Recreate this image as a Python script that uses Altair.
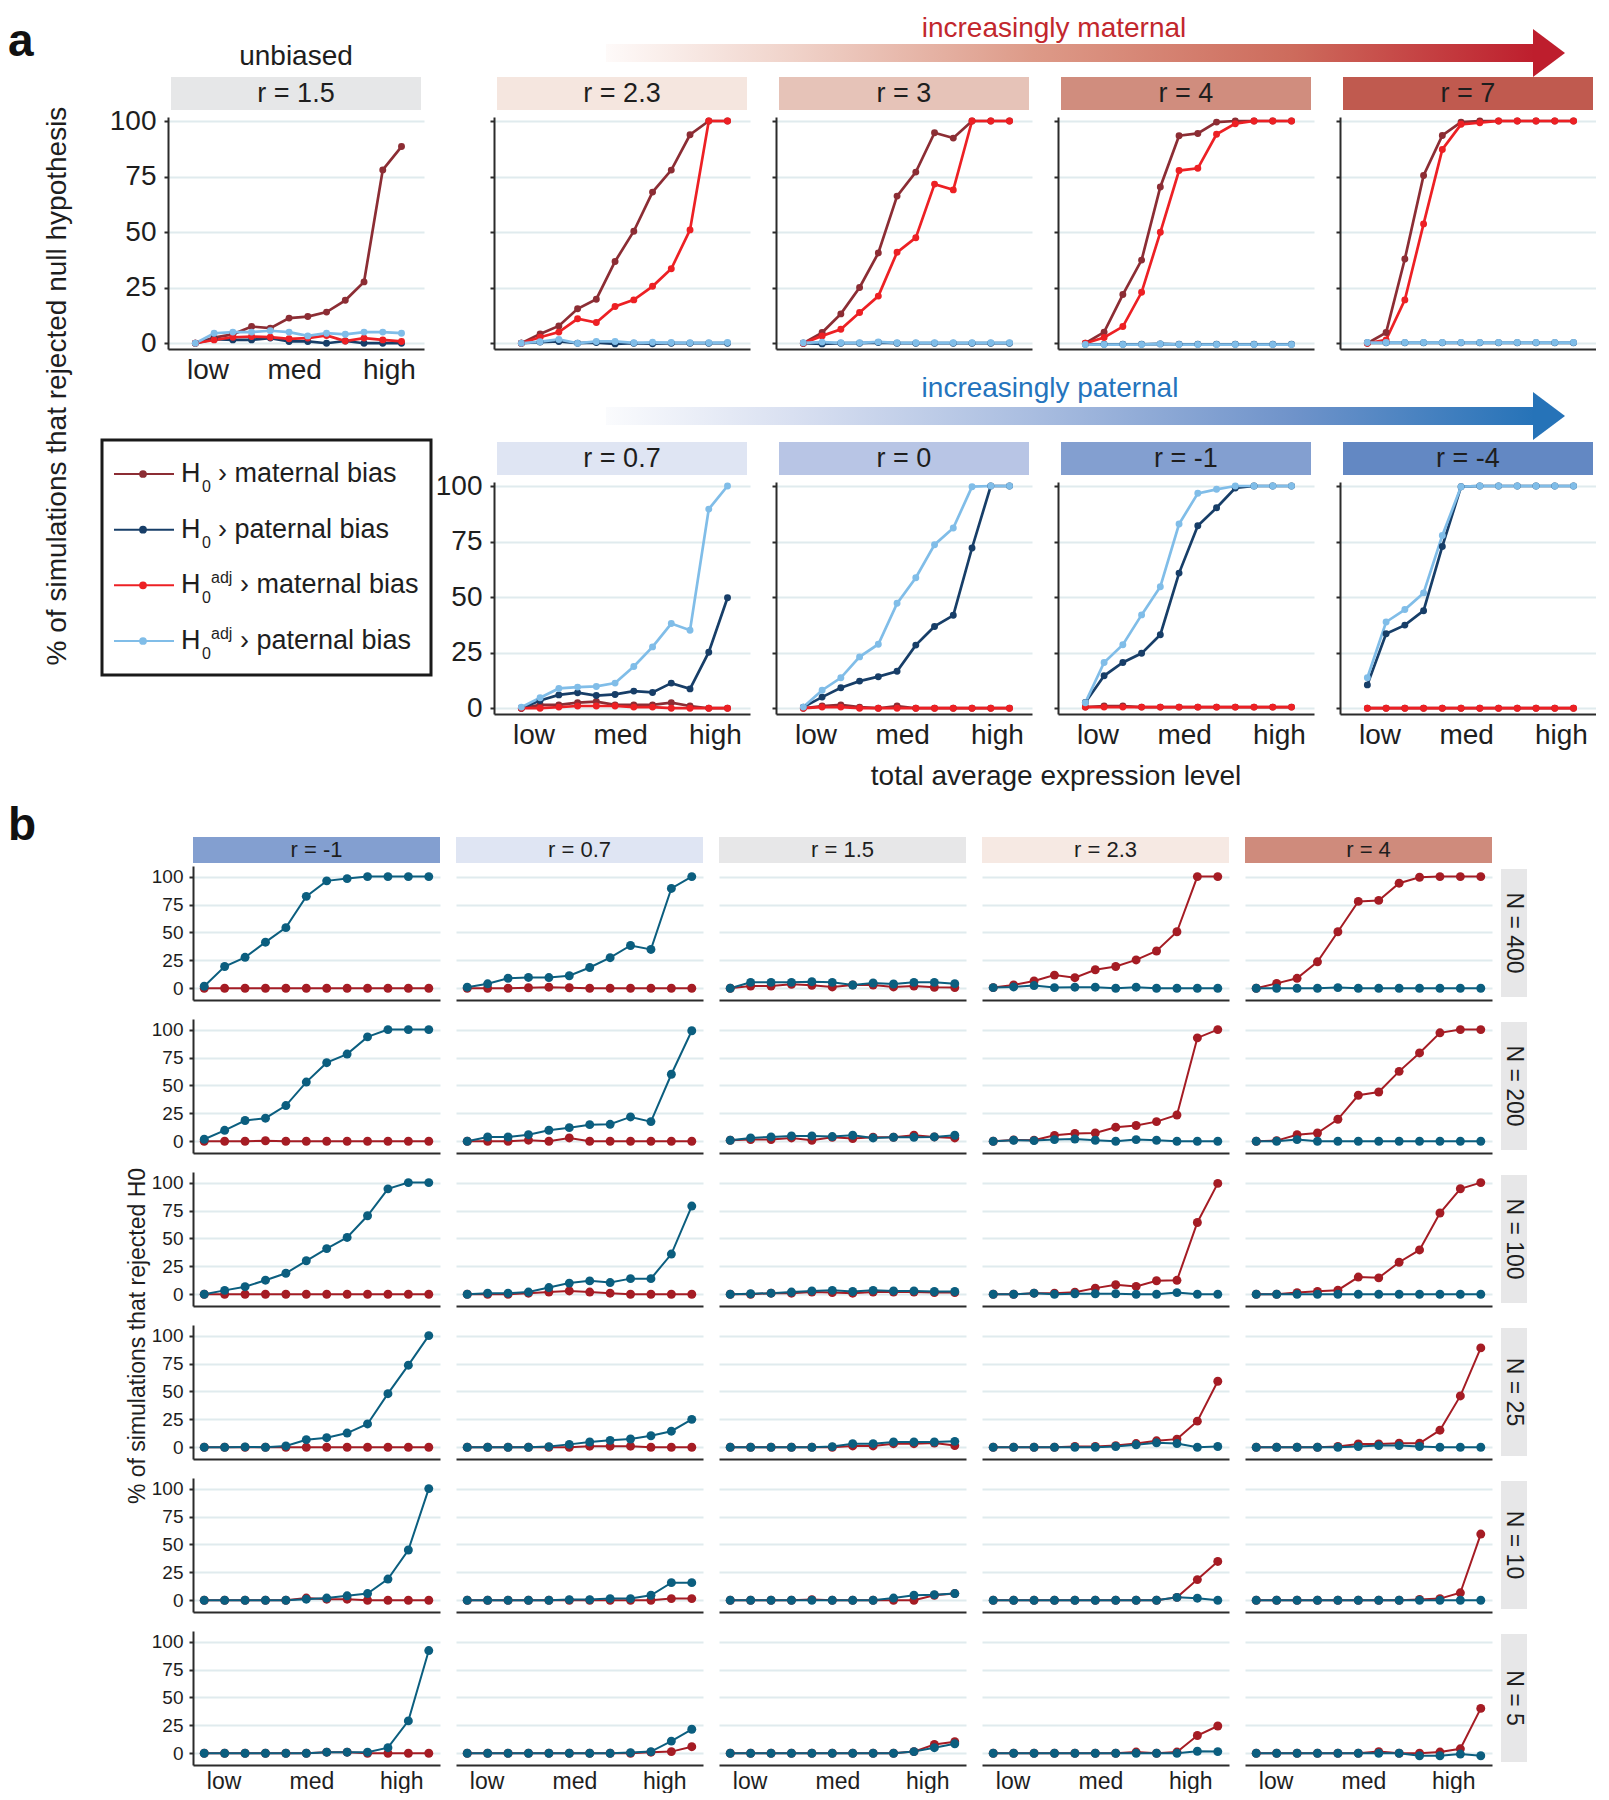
import altair as alt
import pandas as pd

FONT = "Liberation Sans"
INK = "#1e1e1e"
AXIS_INK = "#2b2b2b"
GRID = "#e0ebee"

# ---------------- shared axis content ----------------
X_POS = [1, 2, 3, 4, 5, 6, 7, 8, 9, 10, 11, 12]
TICK_LABELS = ["low", "med", "high"]
TICK_POS_A = [1.65, 6.27, 11.33]
TICK_POS_B = [1.95, 6.25, 10.65]
Y_TICKS = [0, 25, 50, 75, 100]

# ---------------- part a ----------------
SERIES_A = ["H0_mat", "H0_pat", "H0adj_mat", "H0adj_pat"]
COLORS_A = ["#8c2d34", "#173e68", "#ed2024", "#80bde8"]
LEG_BASE = ["H", "H", "H", "H"]
LEG_SUB = ["0", "0", "0", "0"]
LEG_SUP = ["", "", "adj", "adj"]
LEG_DESC = ["\u203a maternal bias", "\u203a paternal bias", "\u203a maternal bias", "\u203a paternal bias"]

A_TOP_R = ["1.5", "2.3", "3", "4", "7"]
A_TOP_STRIP = ["#e6e7e8", "#f5e6df", "#e6c3b8", "#d08d7e", "#c05a4f"]
A_BOT_R = ["0.7", "0", "-1", "-4"]
A_BOT_STRIP = ["#dfe5f3", "#b8c5e5", "#839fd0", "#6388c3"]

A_R1_5 = {
    "H0_mat": [0, 2.5, 4, 7.5, 6.8, 11.3, 12, 14, 19.3, 27.6, 78, 88.5],
    "H0_pat": [0, 1.8, 1.5, 1.5, 2.3, 0.8, 0.8, 0, 1, 0, 0, 0],
    "H0adj_mat": [0, 1.5, 2.7, 3, 2.7, 2, 2.3, 3.5, 1, 2.3, 1.5, 0.8],
    "H0adj_pat": [0, 4.5, 5, 5, 5.6, 5, 3.3, 4.5, 4, 5, 5, 4.5],
}
A_R2_3 = {
    "H0_mat": [0, 4.2, 7.8, 15.5, 19.8, 36.8, 50.4, 68, 77.9, 93.8, 100, 100],
    "H0_pat": [0, 0.5, 0.8, 0, 0.3, -0.3, 0, -0.2, 0, 0, 0, 0],
    "H0adj_mat": [0, 2.7, 5, 11, 9.3, 16.5, 19.5, 25.6, 33.5, 51, 100, 100],
    "H0adj_pat": [0, 0.7, 1.7, 0, 0.8, 0.8, 0.2, 0.4, 0.3, 0.2, 0.2, 0.3],
}
A_R3 = {
    "H0_mat": [0, 4.8, 13.2, 25.1, 40.6, 66.2, 77, 94.7, 92.3, 100, 100, 100],
    "H0_pat": [0, -0.3, 0, 0, 0.3, 0, 0, 0, 0, 0, 0, 0],
    "H0adj_mat": [0, 3.3, 6.3, 13.8, 21.2, 40.9, 47.5, 71.6, 69, 100, 100, 100],
    "H0adj_pat": [0.2, 0.5, 0.2, 0.2, 0.6, 0.2, 0.2, 0.2, 0.2, 0.2, 0.2, 0.2],
}
A_R4 = {
    "H0_mat": [0, 5, 21.9, 37.4, 70.3, 93.4, 94.4, 99.5, 100, 100, 100, 100],
    "H0_pat": [-0.5, -0.5, -0.5, -0.5, -0.3, -0.5, -0.5, -0.5, -0.5, -0.5, -0.5, -0.5],
    "H0adj_mat": [0, 2.6, 7.5, 22.9, 49.9, 77.7, 78.7, 94, 98.8, 100, 100, 100],
    "H0adj_pat": [-0.6, -0.6, -0.6, -0.6, -0.3, -0.6, -0.6, -0.6, -0.6, -0.6, -0.6, -0.6],
}
A_R7 = {
    "H0_mat": [0, 4.8, 37.9, 75.5, 93.5, 99.5, 100, 100, 100, 100, 100, 100],
    "H0_pat": [0.2, 0.2, 0.2, 0.2, 0.2, 0.2, 0.2, 0.2, 0.2, 0.2, 0.2, 0.2],
    "H0adj_mat": [0, 1.5, 19.5, 53.7, 87.2, 98.5, 99.2, 100, 100, 100, 100, 100],
    "H0adj_pat": [0.3, 0.3, 0.3, 0.3, 0.3, 0.3, 0.3, 0.3, 0.3, 0.3, 0.3, 0.3],
}
A_R0_7 = {
    "H0_mat": [0, 1.5, 1.5, 2.5, 3, 1.5, 1.5, 1.5, 2.5, 1, 0, 0],
    "H0_pat": [0, 3.5, 6, 7, 5.7, 6.2, 7.7, 7.1, 11.3, 8.7, 25.2, 49.7],
    "H0adj_mat": [0, 0, 0.5, 1, 1, 1, 0.5, 0.5, 0, 0, 0, 0],
    "H0adj_pat": [0.5, 4.7, 8.9, 9.5, 9.8, 11.3, 18.8, 27.6, 38.1, 35.1, 89.6, 100],
}
A_R0 = {
    "H0_mat": [0, 1, 1.5, 0.5, 0, 1, 0, 0, 0, 0, 0, 0],
    "H0_pat": [0.5, 5, 9.2, 12.2, 14.2, 16.6, 28.4, 36.8, 41.8, 72.1, 100, 100],
    "H0adj_mat": [0, 0.5, 0.5, 0, 0, 0, 0, 0, 0, 0, 0, 0],
    "H0adj_pat": [0.5, 8.1, 13.7, 23.1, 28.8, 47.2, 58.7, 73.6, 81.1, 99.7, 100, 100],
}
A_RM1 = {
    "H0_mat": [0.5, 1, 1, 0.5, 0.5, 0.5, 0.5, 0.5, 0.5, 0.5, 0.5, 0.5],
    "H0_pat": [2.6, 14.6, 20.6, 24.7, 33.1, 60.8, 82.1, 90.2, 99.1, 100, 100, 100],
    "H0adj_mat": [0.5, 0.5, 0.5, 0.5, 0.5, 0.5, 0.5, 0.5, 0.5, 0.5, 0.5, 0.5],
    "H0adj_pat": [2.5, 20.6, 28.6, 42, 54.7, 82.9, 96.7, 98.5, 100, 100, 100, 100],
}
A_RM4 = {
    "H0_mat": [0, 0, 0, 0, 0, 0, 0, 0, 0, 0, 0, 0],
    "H0_pat": [10.5, 33.5, 37.4, 43.9, 72.8, 99.7, 100, 100, 100, 100, 100, 100],
    "H0adj_mat": [0, 0, 0, 0, 0, 0, 0, 0, 0, 0, 0, 0],
    "H0adj_pat": [13.7, 38.8, 44.4, 51.9, 77.7, 99.7, 100, 100, 100, 100, 100, 100],
}
A_TOP_VALS = [A_R1_5, A_R2_3, A_R3, A_R4, A_R7]
A_BOT_VALS = [A_R0_7, A_R0, A_RM1, A_RM4]

# ---------------- part b ----------------
B_R = ["-1", "0.7", "1.5", "2.3", "4"]
B_STRIP = ["#839fd0", "#dfe5f3", "#e7e7e8", "#f6e9e3", "#cf8b7c"]
B_N = ["400", "200", "100", "25", "10", "5"]
B_COLORS = ["#a51c24", "#0b5e7f"]  # maternal, paternal
ROW_STRIP = "#e7e7e8"

B_RM1_MAT = {
    "400": [0, 0, 0, 0, 0, 0, 0, 0, 0, 0, 0, 0],
    "200": [0, 0, 0, 0.5, 0, 0, 0, 0, 0, 0, 0, 0],
    "100": [0, 0, 0, 0, 0, 0, 0, 0, 0, 0, 0, 0],
    "25": [0, 0, 0, 0, 0, 0, 0, 0, 0, 0, 0, 0],
    "10": [0, 0, 0, 0, 0, 2, 1, 1, 0, 0, 0, 0],
    "5": [0, 0, 0, 0, 0, 0, 1, 1, 0, 0, 0, 0],
}
B_RM1_PAT = {
    "400": [1.8, 19.5, 27.7, 41.3, 54.3, 82.3, 96.2, 98.2, 100, 100, 100, 100],
    "200": [1.8, 9.8, 18.6, 20.7, 32, 53, 70.4, 78.1, 93.5, 100, 100, 100],
    "100": [0, 3.5, 6.8, 12.6, 18.8, 30, 40.9, 50.9, 70.3, 94.4, 100, 100],
    "25": [0, 0, 0.3, 0, 1.2, 6.8, 8.6, 12.7, 20.9, 48, 73.5, 100],
    "10": [0, 0, 0, 0, 0, 1, 2, 4, 6, 19, 45, 100],
    "5": [0, 0, 0, 0, 0, 0, 1, 1, 1, 5, 29, 92],
}
B_R07_MAT = {
    "400": [0, 0, 0, 0.5, 1, 0.5, 0, 0, 0, 0, 0, 0],
    "200": [0, 0, 0, 1, 0, 3, 0, 0, 0, 0, 0, 0],
    "100": [0, 0, 0, 1, 2, 3, 2, 1, 0, 0, 0, 0],
    "25": [0, 0, 0, 0, 0, 0, 1, 1, 1, 0, 0, 0],
    "10": [0, 0, 0, 0, 0, 0, 0, 0, 0, 0, 1.5, 1.5],
    "5": [0, 0, 0, 0, 0, 0, 0, 0, 0, 1, 1.5, 5.9],
}
B_R07_PAT = {
    "400": [1, 4, 9, 9.7, 9.6, 11.2, 18.6, 27.4, 38.3, 34.8, 89.4, 100],
    "200": [0, 3.8, 3.8, 5.9, 9.9, 12.2, 14.9, 15.2, 21.8, 17.6, 60, 99],
    "100": [0, 1, 1, 2, 6, 10, 12, 10.5, 14, 14, 36, 79],
    "25": [0, 0, 0, 0, 0.6, 2.6, 4.7, 6.2, 7.4, 10.3, 14.4, 25],
    "10": [0, 0, 0, 0, 0, 0.6, 0.6, 1.5, 1.5, 4.5, 15.8, 15.8],
    "5": [0, 0, 0, 0, 0, 0, 0, 0, 0.6, 1.5, 10.9, 21.5],
}
B_R15_MAT = {
    "400": [0, 2, 2, 3.5, 2.7, 1.2, 2.9, 2.9, 1.2, 2, 0.9, 0.6],
    "200": [0.9, 1.5, 1.5, 3, 0.9, 3.6, 2.4, 3.6, 3.6, 5.4, 3.9, 3],
    "100": [0, 0, 1, 1, 2, 1.5, 1, 2, 2, 2, 1.5, 1.5],
    "25": [0, 0, 0, 0, 0, 0, 1.2, 1.2, 3.2, 3.2, 3.8, 1.5],
    "10": [0, 0, 0, 0, 0.6, 0, 0, 0, 0, 0, 4.5, 6],
    "5": [0, 0, 0, 0, 0, 0, 0, 0, 0, 1.5, 7.9, 10.3],
}
B_R15_PAT = {
    "400": [0, 5.3, 5.3, 5.3, 5.9, 5.3, 2.9, 4.7, 3.8, 5.3, 5.3, 4.1],
    "200": [0.9, 3, 3.9, 4.8, 4.8, 4.2, 5.4, 3, 3.6, 3.6, 3.9, 5.4],
    "100": [0, 0.5, 1, 2, 3, 3.5, 2.5, 3.5, 3, 3, 2.5, 2.5],
    "25": [0, 0, 0, 0, 0, 0.6, 3.2, 3.2, 4.7, 4.7, 4.7, 5.3],
    "10": [0, 0, 0, 0, 0, 0, 0, 0, 2, 4.5, 5, 6],
    "5": [0, 0, 0, 0, 0, 0, 0, 0, 0, 1.5, 5, 8.5],
}
B_R23_MAT = {
    "400": [0.6, 3, 6.5, 11.8, 9.5, 16.6, 19.5, 25.4, 33.4, 50.6, 100, 100],
    "200": [0, 1.2, 1, 5.3, 7, 7.4, 12.6, 14.1, 17.6, 23.5, 92.6, 100],
    "100": [0, 0, 1, 1, 1.8, 5.5, 8.5, 7, 12.1, 12.5, 64.3, 99.3],
    "25": [0, 0, 0, 0, 0.7, 0.7, 1.5, 3.3, 5.8, 7.3, 23.4, 59.1],
    "10": [0, 0, 0, 0, 0, 0, 0, 0, 0, 2.6, 18.5, 34.8],
    "5": [0, 0, 0, 0, 0, 0, 0, 1.1, 0, 1.1, 15.9, 24.4],
}
B_R23_PAT = {
    "400": [0.6, 1.2, 2.4, 0.6, 1, 1, 0, 1, 0, 0, 0, 0],
    "200": [0, 0.9, 0.6, 1.5, 2, 0.9, 0, 1.5, 0.9, 0, 0, 0],
    "100": [0, 0, 1, 0, 0.5, 0.5, 0.5, 0, 0, 1.5, 0, 0],
    "25": [0, 0, 0, 0, 0, 0, 0.7, 2.2, 4, 3.3, 0, 0.7],
    "10": [0, 0, 0, 0, 0, 0, 0, 0, 0, 2.6, 1.9, 0],
    "5": [0, 0, 0, 0, 0, 0, 0, 0, 0, 0, 1.8, 1.5],
}
B_R4_MAT = {
    "400": [0, 4.4, 8.9, 23.7, 50.6, 77.8, 78.7, 94.1, 99.4, 100, 100, 100],
    "200": [0, 0.6, 5.9, 7.4, 19.7, 41.2, 44.1, 62.6, 79.1, 97.1, 100, 100],
    "100": [0, 0, 1.5, 2.6, 3.7, 15.4, 14.7, 28.7, 39.7, 72.8, 94.5, 100],
    "25": [0, 0, 0, 0, 0.7, 2.9, 2.9, 3.6, 3.6, 15.3, 46, 89],
    "10": [0, 0, 0, 0, 0, 0, 0, 0, 0.7, 1.5, 6.7, 59.3],
    "5": [0, 0, 0, 0, 0, 0, 1.5, 0, 0, 1.1, 4, 40.2],
}
B_R4_PAT = {
    "400": [0, 0, 0, 0, 0.6, 0, 0, 0, 0, 0, 0, 0],
    "200": [0, 0, 1.5, 0, 0, 0, 0, 0, 0, 0, 0, 0],
    "100": [0, 0, 0, 0, 0, 0, 0, 0, 0, 0, 0, 0],
    "25": [0, 0, 0, 0, 0, 0.7, 1.5, 1.5, 0.7, 0, 0, 0],
    "10": [0, 0, 0, 0, 0, 0, 0, 0, 0, 0, 0, 0],
    "5": [0, 0, 0, 0, 0, 0, 0, 0, -2.2, -2.2, -0.7, -2.2],
}
B_MAT = [B_RM1_MAT, B_R07_MAT, B_R15_MAT, B_R23_MAT, B_R4_MAT]
B_PAT = [B_RM1_PAT, B_R07_PAT, B_R15_PAT, B_R23_PAT, B_R4_PAT]

# ---------------- geometry ----------------
AW, AH = 256, 232
LW = 300
BW, BH = 247, 134
XDOM_A = [-0.46, 13.2]
YDOM_A = [-2.6, 101.8]
XDOM_B = [0.45, 12.55]
YDOM_B = [-10.5, 109.5]
HEAD = "M-0.667,-2L2,0L-0.667,2Z"


def label_expr(pos):
    m1 = (pos[0] + pos[1]) / 2
    m2 = (pos[1] + pos[2]) / 2
    return (f"datum.value < {m1} ? '{TICK_LABELS[0]}' : "
            f"datum.value < {m2} ? '{TICK_LABELS[1]}' : '{TICK_LABELS[2]}'")


LBL_A = label_expr(TICK_POS_A)
LBL_B = label_expr(TICK_POS_B)


def one():
    return alt.Chart(pd.DataFrame({"k": [0]}))


def txt(x, y, s, size, color=INK, **kw):
    return one().mark_text(font=FONT, fontSize=size, color=color, **kw).encode(
        x=alt.value(x), y=alt.value(y), text=alt.value(s))


def spacer_rect(y):
    return one().mark_rect(color="white").encode(
        x=alt.value(0), x2=alt.value(8), y=alt.value(y), y2=alt.value(y + 1))


def arrow(x0, xb, tip, yc, stops, head_col, label, tx, ty, label_col):
    grad = alt.LinearGradient(
        gradient="linear",
        stops=[alt.GradientStop(offset=o, color=c) for o, c in stops],
        x1=0, x2=1, y1=0, y2=0)
    bar = one().mark_rect(color=grad).encode(
        x=alt.value(x0), x2=alt.value(xb + 1), y=alt.value(yc - 9), y2=alt.value(yc + 9))
    head = one().mark_point(shape=HEAD, filled=True, size=576, color=head_col,
                            opacity=1, strokeWidth=0).encode(
        x=alt.value(tip - 24), y=alt.value(yc))
    return [bar, head, txt(tx, ty, label, 28, label_col)]


def a_panel(r, vals, strip_color, ylab, xlab, extras=()):
    rows = []
    for s in SERIES_A:
        for x, v in zip(X_POS, vals[s]):
            rows.append({"series": s, "x": x, "value": v})
    df = pd.DataFrame(rows)
    xe = alt.X("x:Q", scale=alt.Scale(domain=XDOM_A, nice=False, zero=False),
               axis=alt.Axis(values=TICK_POS_A, labelExpr=LBL_A, labels=xlab, ticks=False,
                             grid=False, domain=True, domainWidth=2, domainColor=AXIS_INK,
                             labelFontSize=28, labelPadding=7, labelColor=INK, labelFont=FONT,
                             labelFlush=False, labelOverlap=False, title=None))
    ye = alt.Y("value:Q", scale=alt.Scale(domain=YDOM_A, nice=False, zero=False),
               axis=alt.Axis(values=Y_TICKS, labels=ylab, ticks=True, tickSize=4, tickWidth=2,
                             tickColor=AXIS_INK, domain=True, domainWidth=2, domainColor=AXIS_INK,
                             grid=True, gridColor=GRID, gridWidth=2, labelFontSize=28,
                             labelPadding=8, labelColor=INK, labelFont=FONT,
                             labelOverlap=False, title=None))
    layers = []
    for s, c in zip(SERIES_A, COLORS_A):
        layers.append(alt.Chart(df[df.series == s]).mark_line(color=c, strokeWidth=2.7)
                      .encode(x=xe, y=ye))
    for s, c in zip(SERIES_A, COLORS_A):
        layers.append(alt.Chart(df[df.series == s]).mark_circle(color=c, size=48, opacity=1)
                      .encode(x=xe, y=ye))
    layers.append(one().mark_rect(color=strip_color).encode(
        x=alt.value(3), x2=alt.value(AW - 3), y=alt.value(-40), y2=alt.value(-7)))
    layers.append(txt(AW / 2, -23, f"r = {r}", 27))
    layers += list(extras)
    return alt.layer(*layers).properties(width=AW, height=AH)


MAT_STOPS = [(0, "#fefaf9"), (0.2, "#f0d3ca"), (0.46, "#dd9a88"), (0.74, "#cd6b5c"), (1, "#be1e2d")]
PAT_STOPS = [(0, "#fafbfd"), (0.2, "#d9e0f1"), (0.46, "#a9bde0"), (0.74, "#6f93ca"), (1, "#2673b8")]

p1_extras = [
    txt(-160, -61, "a", 46, "#111111", fontWeight="bold", align="left", baseline="alphabetic"),
    txt(128, -60, "unbiased", 28),
    txt(-110, 269, "% of simulations that rejected null hypothesis", 28, angle=270),
]
p2_extras = arrow(112, 1040, 1071, -64, MAT_STOPS, "#be1e2d",
                  "increasingly maternal", 560, -88, "#c2272d") + [spacer_rect(-109)]
q1_extras = arrow(112, 1040, 1071, -66, PAT_STOPS, "#2673b8",
                  "increasingly paternal", 556, -93, "#2474bd") + [
    txt(562, AH + 63, "total average expression level", 28),
    spacer_rect(AH + 79),
]

top_panels = []
for i, (r, v, sc) in enumerate(zip(A_TOP_R, A_TOP_VALS, A_TOP_STRIP)):
    ex = p1_extras if i == 0 else (p2_extras if i == 1 else ())
    top_panels.append(a_panel(r, v, sc, ylab=(i == 0), xlab=(i == 0), extras=ex))

bot_panels = []
for i, (r, v, sc) in enumerate(zip(A_BOT_R, A_BOT_VALS, A_BOT_STRIP)):
    ex = q1_extras if i == 0 else ()
    bot_panels.append(a_panel(r, v, sc, ylab=(i == 0), xlab=True, extras=ex))

# legend chart
leg_df = pd.DataFrame({"idx": [0, 1, 2, 3], "series": SERIES_A, "base": LEG_BASE,
                       "sub": LEG_SUB, "sup": LEG_SUP, "desc": LEG_DESC})
ly = alt.Y("idx:O", scale=alt.Scale(type="point", domain=[0, 1, 2, 3], range=[-8, 159], padding=0),
           axis=None)
lc = alt.Color("series:N", scale=alt.Scale(domain=SERIES_A, range=COLORS_A), legend=None)
leg_plain = leg_df[leg_df.sup == ""]
leg_adj = leg_df[leg_df.sup != ""]
legend = alt.layer(
    one().mark_rect(fillOpacity=0, stroke="#1a1a1a", strokeWidth=3).encode(
        x=alt.value(-66), x2=alt.value(263), y=alt.value(-42), y2=alt.value(193)),
    alt.Chart(leg_df).mark_rule(strokeWidth=2).encode(x=alt.value(-54), x2=alt.value(6), y=ly, color=lc),
    alt.Chart(leg_df).mark_circle(size=60, opacity=1).encode(x=alt.value(-25), y=ly, color=lc),
    alt.Chart(leg_df).mark_text(font=FONT, fontSize=27, color=INK, align="left", baseline="middle")
    .encode(x=alt.value(13), y=ly, text="base:N"),
    alt.Chart(leg_df).mark_text(font=FONT, fontSize=16, color=INK, align="left", baseline="middle", dy=13)
    .encode(x=alt.value(34), y=ly, text="sub:N"),
    alt.Chart(leg_adj).mark_text(font=FONT, fontSize=16, color=INK, align="left", baseline="middle", dy=-7)
    .encode(x=alt.value(43), y=ly, text="sup:N"),
    alt.Chart(leg_plain).mark_text(font=FONT, fontSize=27, color=INK, align="left", baseline="middle")
    .encode(x=alt.value(50), y=ly, text="desc:N"),
    alt.Chart(leg_adj).mark_text(font=FONT, fontSize=27, color=INK, align="left", baseline="middle")
    .encode(x=alt.value(72), y=ly, text="desc:N"),
).properties(width=LW, height=AH)

partA = alt.concat(*top_panels, legend, *bot_panels, columns=5,
                   spacing={"row": 133, "column": 26}, bounds="flush")


# ---------------- part b panels ----------------
def b_panel(ci, ri):
    r, n = B_R[ci], B_N[ri]
    rows = []
    for lab, vals in (("mat", B_MAT[ci][n]), ("pat", B_PAT[ci][n])):
        for x, v in zip(X_POS, vals):
            rows.append({"series": lab, "x": x, "value": v})
    df = pd.DataFrame(rows)
    xe = alt.X("x:Q", scale=alt.Scale(domain=XDOM_B, nice=False, zero=False),
               axis=alt.Axis(values=TICK_POS_B, labelExpr=LBL_B, labels=(ri == 5), ticks=False,
                             grid=False, domain=True, domainWidth=2, domainColor=AXIS_INK,
                             labelFontSize=23, labelPadding=5, labelColor=INK, labelFont=FONT,
                             labelFlush=False, labelOverlap=False, title=None))
    ye = alt.Y("value:Q", scale=alt.Scale(domain=YDOM_B, nice=False, zero=False),
               axis=alt.Axis(values=Y_TICKS, labels=(ci == 0), ticks=(ci == 0), tickSize=4,
                             tickWidth=2, tickColor=AXIS_INK, domain=(ci == 0), domainWidth=2,
                             domainColor=AXIS_INK, grid=True, gridColor=GRID, gridWidth=2,
                             labelFontSize=19, labelPadding=6, labelColor=INK, labelFont=FONT,
                             labelOverlap=False, title=None))
    layers = []
    for lab, c in zip(("mat", "pat"), B_COLORS):
        layers.append(alt.Chart(df[df.series == lab]).mark_line(color=c, strokeWidth=2)
                      .encode(x=xe, y=ye))
    for lab, c in zip(("mat", "pat"), B_COLORS):
        layers.append(alt.Chart(df[df.series == lab]).mark_circle(color=c, size=80, opacity=1)
                      .encode(x=xe, y=ye))
    if ri == 0:
        layers.append(one().mark_rect(color=B_STRIP[ci]).encode(
            x=alt.value(0), x2=alt.value(BW), y=alt.value(-29), y2=alt.value(-3)))
        layers.append(txt(BW / 2, -16, f"r = {r}", 22))
    if ci == 4:
        layers.append(one().mark_rect(color=ROW_STRIP).encode(
            x=alt.value(BW + 9), x2=alt.value(BW + 35), y=alt.value(3), y2=alt.value(BH - 3)))
        layers.append(txt(BW + 22, BH / 2, f"N = {n}", 23, angle=90))
    if ci == 0 and ri == 0:
        layers.append(spacer_rect(-72))
        layers.append(txt(-185, -26, "b", 46, "#111111", fontWeight="bold", align="left",
                          baseline="alphabetic"))
        layers.append(txt(-55, 470, "% of simulations that rejected H0", 23, angle=270))
    return alt.layer(*layers).properties(width=BW, height=BH)


def b_spacer():
    return one().mark_point(opacity=0, size=1).encode(
        x=alt.value(0), y=alt.value(0)).properties(width=9, height=BH)


b_items = []
for ri in range(6):
    b_items.append(b_spacer())
    for ci in range(5):
        b_items.append(b_panel(ci, ri))

partB = alt.concat(*b_items, columns=6, spacing={"row": 19, "column": 16}, bounds="flush")

chart = (
    alt.vconcat(partA, partB, spacing=0)
    .properties(padding=0)
    .configure_view(stroke=None)
    .configure_axis(labelFont=FONT)
)

chart.save("out.html", embed_options={"renderer": "svg", "actions": False})
